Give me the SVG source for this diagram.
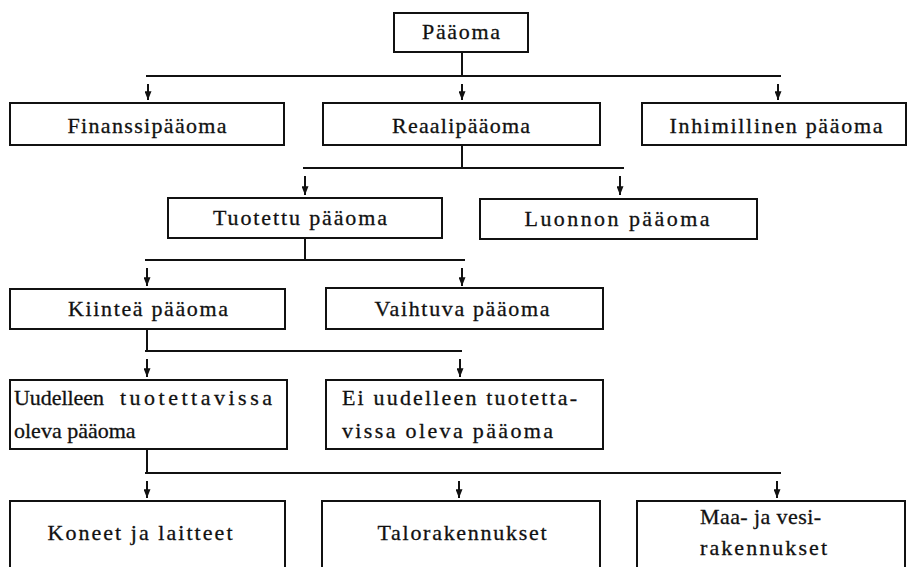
<svg xmlns="http://www.w3.org/2000/svg" width="908" height="567" viewBox="0 0 908 567">
<style>
  .box rect { fill: none; stroke: #111; stroke-width: 2; }
  .box text { font-family: "Liberation Serif", "DejaVu Serif", serif; font-size: 22px; fill: #111; stroke: #111; stroke-width: 0.3; }
  .c { text-anchor: middle; }
  #connectors line { stroke: #111; stroke-width: 2; }
  #connectors .arr { marker-end: url(#ah); }
</style>
<defs>
  <marker id="ah" viewBox="0 0 10 8" refX="10" refY="4" markerWidth="9" markerHeight="7" orient="auto" markerUnits="userSpaceOnUse">
    <path d="M0,0 L10,4 L0,8 z" fill="#111"/>
  </marker>
</defs>
<rect width="908" height="567" fill="#fff"/>

<g id="connectors">
  <line x1="462" y1="53" x2="462" y2="76"/>
  <line x1="146" y1="76" x2="781" y2="76"/>
  <line class="arr" x1="148" y1="84" x2="148" y2="100"/>
  <line class="arr" x1="462" y1="84" x2="462" y2="100"/>
  <line class="arr" x1="778" y1="84" x2="778" y2="100"/>
  <line x1="462" y1="146" x2="462" y2="168"/>
  <line x1="303" y1="168" x2="624" y2="168"/>
  <line class="arr" x1="305" y1="176" x2="305" y2="195"/>
  <line class="arr" x1="620" y1="176" x2="620" y2="195"/>
  <line x1="305" y1="239" x2="305" y2="260"/>
  <line x1="145" y1="260" x2="465" y2="260"/>
  <line class="arr" x1="147" y1="268" x2="147" y2="286"/>
  <line class="arr" x1="462" y1="268" x2="462" y2="286"/>
  <line x1="147" y1="330" x2="147" y2="351"/>
  <line x1="145" y1="351" x2="462" y2="351"/>
  <line class="arr" x1="147" y1="359" x2="147" y2="377"/>
  <line class="arr" x1="460" y1="359" x2="460" y2="377"/>
  <line x1="147" y1="450" x2="147" y2="473"/>
  <line x1="145" y1="473" x2="781" y2="473"/>
  <line class="arr" x1="147" y1="481" x2="147" y2="498"/>
  <line class="arr" x1="459" y1="481" x2="459" y2="498"/>
  <line class="arr" x1="777" y1="481" x2="777" y2="498"/>
</g>

<g id="n-paaoma" class="box">
  <rect x="394" y="13" width="134" height="39"/>
  <text x="461" y="39" class="c" textLength="78">Pääoma</text>
</g>

<g id="n-finanssi" class="box">
  <rect x="10" y="103" width="274" height="42"/>
  <text x="147" y="133" class="c" textLength="159">Finanssipääoma</text>
</g>
<g id="n-reaali" class="box">
  <rect x="323" y="103" width="277" height="42"/>
  <text x="461" y="133" class="c" textLength="138">Reaalipääoma</text>
</g>
<g id="n-inhimillinen" class="box">
  <rect x="642" y="103" width="264" height="42"/>
  <text x="776" y="133" class="c" textLength="213">Inhimillinen pääoma</text>
</g>

<g id="n-tuotettu" class="box">
  <rect x="168" y="198" width="274" height="40"/>
  <text x="300" y="225" class="c" textLength="174">Tuotettu pääoma</text>
</g>
<g id="n-luonnon" class="box">
  <rect x="480" y="199" width="277" height="40"/>
  <text x="617" y="226" class="c" textLength="185">Luonnon pääoma</text>
</g>

<g id="n-kiintea" class="box">
  <rect x="10" y="289" width="275" height="40"/>
  <text x="148" y="316" class="c" textLength="160">Kiinteä pääoma</text>
</g>
<g id="n-vaihtuva" class="box">
  <rect x="326" y="288" width="277" height="41"/>
  <text x="462" y="316" class="c" textLength="175">Vaihtuva pääoma</text>
</g>

<g id="n-uudelleen" class="box">
  <rect x="10" y="380" width="277" height="69"/>
  <text y="405"><tspan x="14" textLength="90">Uudelleen</tspan> <tspan x="120" textLength="152">tuotettavissa</tspan></text>
  <text x="14" y="438">oleva pääoma</text>
</g>
<g id="n-ei-uudelleen" class="box">
  <rect x="326" y="380" width="277" height="69"/>
  <text x="342" y="405" textLength="235">Ei uudelleen tuotetta-</text>
  <text x="342" y="438" textLength="211">vissa oleva pääoma</text>
</g>

<g id="n-koneet" class="box">
  <rect x="10" y="501" width="275" height="80"/>
  <text x="140" y="540" class="c" textLength="185">Koneet ja laitteet</text>
</g>
<g id="n-talo" class="box">
  <rect x="322" y="501" width="278" height="80"/>
  <text x="462" y="540" class="c" textLength="169">Talorakennukset</text>
</g>
<g id="n-maa" class="box">
  <rect x="637" y="501" width="268" height="80"/>
  <text x="700" y="524" textLength="121">Maa- ja vesi-</text>
  <text x="700" y="555" textLength="127">rakennukset</text>
</g>
</svg>
